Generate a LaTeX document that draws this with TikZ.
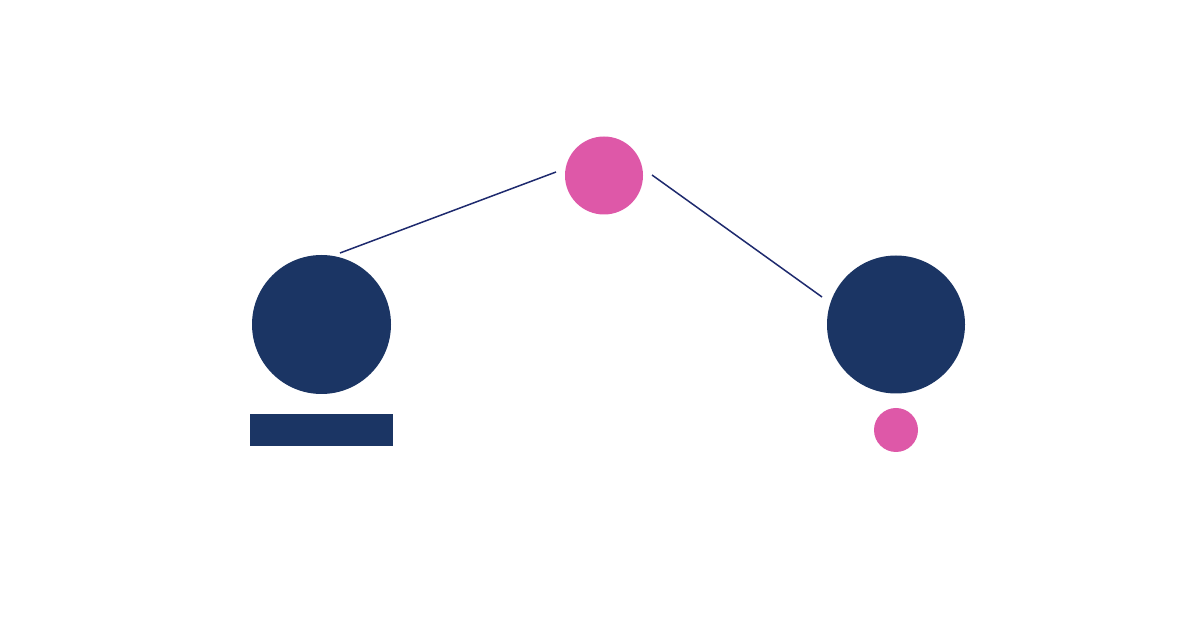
\documentclass[tikz,border=0pt]{standalone}
\begin{document}
\begin{tikzpicture}[x=0.5pt,y=-0.5pt]
\definecolor{navy}{HTML}{1B3564}
\definecolor{pinkc}{HTML}{DE58A8}
\definecolor{linec}{HTML}{1E2A6E}
\tikzset{
  dot/.style={circle,inner sep=0pt,outer sep=0pt,draw=none},
  conn/.style={draw=linec,line width=0.75pt},
}
\useasboundingbox[fill=white] (0,0) rectangle (1200,624);
\node[dot,fill=pinkc,minimum size=39pt] (top) at (604,175.5) {};
\node[dot,fill=navy,minimum size=69.5pt] (left) at (321.5,324.5) {};
\node[dot,fill=navy,minimum size=69pt] (right) at (896,324.5) {};
\node[rectangle,fill=navy,inner sep=0pt,minimum width=71.5pt,minimum height=16pt] (bar) at (321.5,430) {};
\node[dot,fill=pinkc,minimum size=22pt] (small) at (896,430) {};
\coordinate (l1) at (340,253);
\coordinate (l2) at (556,172);
\coordinate (r1) at (652,175);
\coordinate (r2) at (822,297);
\draw[conn] (l1) -- (l2);
\draw[conn] (r1) -- (r2);
\end{tikzpicture}
\end{document}
